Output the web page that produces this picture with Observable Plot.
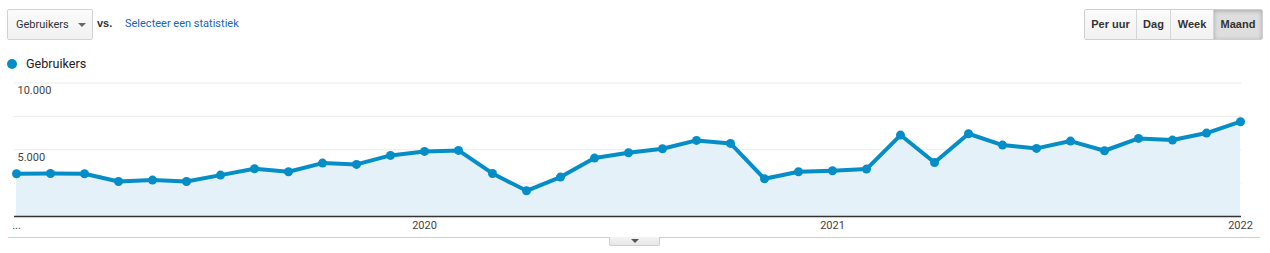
<!DOCTYPE html>
<html>
<head>
<meta charset="utf-8">
<script src="https://cdn.jsdelivr.net/npm/d3@7"></script>
<script src="https://cdn.jsdelivr.net/npm/@observablehq/plot@0.6"></script>
<style>
  html, body { margin: 0; padding: 0; background: #fff; }
  body { width: 1270px; height: 253px; overflow: hidden; font-family: Roboto, Arial, sans-serif; }
  #wrap { position: relative; width: 1270px; height: 253px; }
  .abs { position: absolute; }
  #dd { left: 7px; top: 9px; width: 84px; height: 29px; border: 1px solid #d2d2d2; border-radius: 2px;
        background: linear-gradient(#fbfbfb, #f1f1f1); box-sizing: content-box; }
  #dd span { position: absolute; left: 8px; top: 8px; font-size: 11px; color: #333; }
  #dd i { position: absolute; left: 70px; top: 13px; width: 0; height: 0; border-left: 4px solid transparent;
          border-right: 4px solid transparent; border-top: 4px solid #666; }
  #vs { left: 97px; top: 17px; font-size: 11px; font-weight: bold; color: #333; font-family: Arial, sans-serif; }
  #sel { left: 125px; top: 17px; font-size: 11px; color: #1566b5; }
  #btns { left: 1084px; top: 9px; height: 29px; border: 1px solid #cfcfcf; border-radius: 2px; display: flex; overflow: hidden; }
  #btns div { height: 29px; font: bold 11px Arial, "Liberation Sans", sans-serif; line-height: 29px; text-align: center; color: #333;
              background: linear-gradient(#fbfbfb, #f1f1f1); border-left: 1px solid #d6d6d6; box-sizing: border-box; }
  #btns div:first-child { border-left: none; }
  #btns div.on { background: #dedede; box-shadow: inset 0 1px 4px rgba(0,0,0,0.25); }
  #leg { left: 7px; top: 57px; font-size: 12.6px; color: #222; }
  #leg b { position: absolute; left: 0px; top: 2px; width: 10px; height: 10px; border-radius: 50%; background: #058dc7; }
  #leg span { position: absolute; left: 19px; top: -1px; white-space: nowrap; }
  #chart { left: 0; top: 75px; }
  #bline { left: 8px; top: 237px; width: 1252px; height: 1px; background: #cfcfcf; }
  #tab { left: 609px; top: 237px; width: 49px; height: 8px; border: 1px solid #cfcfcf; border-top: none;
         border-radius: 0 0 2px 2px; background: linear-gradient(#f4f4f4, #e6e6e6); }
  #tab i { position: absolute; left: 21px; top: 2px; width: 0; height: 0; border-left: 4px solid transparent;
           border-right: 4px solid transparent; border-top: 4px solid #555; }
</style>
</head>
<body>
<div id="wrap">
  <div id="dd" class="abs"><span>Gebruikers</span><i></i></div>
  <div id="vs" class="abs">vs.</div>
  <div id="sel" class="abs">Selecteer een statistiek</div>
  <div id="btns" class="abs"></div>
  <div id="leg" class="abs"><b></b><span>Gebruikers</span></div>
  <div id="chart" class="abs"></div>
  <div id="bline" class="abs"></div>
  <div id="tab" class="abs"><i></i></div>
</div>
<script>
// ---- data ----
const months = [
  "2019-01","2019-02","2019-03","2019-04","2019-05","2019-06","2019-07","2019-08","2019-09","2019-10","2019-11","2019-12",
  "2020-01","2020-02","2020-03","2020-04","2020-05","2020-06","2020-07","2020-08","2020-09","2020-10","2020-11","2020-12",
  "2021-01","2021-02","2021-03","2021-04","2021-05","2021-06","2021-07","2021-08","2021-09","2021-10","2021-11","2021-12",
  "2022-01"
];
const users = [
  3200, 3225, 3200, 2625, 2725, 2625, 3100, 3575, 3350, 4000, 3900, 4575,
  4875, 4950, 3225, 1925, 2950, 4375, 4775, 5075, 5700, 5475, 2825, 3350,
  3425, 3550, 6100, 4040, 6200, 5350, 5100, 5650, 4925, 5850, 5725, 6250,
  7100
];
const xTicks = ["2019-01", "2020-01", "2021-01", "2022-01"];
const xTickLabels = ["...", "2020", "2021", "2022"];
const yGrid = [2500, 5000, 7500, 10000];
const yTicks = [5000, 10000];
const seriesName = "Gebruikers";
const intervals = ["Per uur", "Dag", "Week", "Maand"];
const activeInterval = "Maand";

// ---- buttons ----
const btnWidths = [51, 34, 43, 49];
const btns = document.getElementById("btns");
intervals.forEach((t, i) => {
  const d = document.createElement("div");
  d.textContent = t;
  d.style.width = btnWidths[i] + "px";
  if (t === activeInterval) d.className = "on";
  btns.appendChild(d);
});

// ---- chart ----
const data = months.map((m, i) => ({month: m, value: users[i]}));
const nl = d3.formatLocale({decimal: ",", thousands: ".", grouping: [3], currency: ["€", ""]});
const fmt = nl.format(",");
const color = "#058dc7";

const chart = Plot.plot({
  width: 1270,
  height: 170,
  marginLeft: 14,
  marginRight: 29,
  marginTop: 7.5,
  marginBottom: 29,
  style: {fontFamily: "Roboto, Arial, sans-serif", fontSize: "11px", color: "#444", background: "transparent"},
  x: {type: "point", domain: months, padding: 0, label: null},
  y: {domain: [0, 10000], label: null},
  marks: [
    Plot.ruleY(yGrid, {stroke: "#ebebeb", strokeWidth: 1}),
    Plot.areaY(data, {x: "month", y: "value", fill: "#e4f1f8"}),
    Plot.ruleY([0], {stroke: "#333", strokeWidth: 1.5}),
    Plot.lineY(data, {x: "month", y: "value", stroke: color, strokeWidth: 4, strokeLinejoin: "round"}),
    Plot.dot(data, {x: "month", y: "value", r: 4.5, fill: color, stroke: null}),
    Plot.axisY({ticks: yTicks, tickSize: 0, tickPadding: 0, textAnchor: "start", dx: 3, dy: 7.5,
                tickFormat: fmt, fill: "#444", fontSize: 11, label: null}),
    Plot.axisX({ticks: xTicks, tickSize: 0, tickPadding: 5,
                tickFormat: d => xTickLabels[xTicks.indexOf(d)], fill: "#444", fontSize: 11, label: null})
  ]
});
document.getElementById("chart").appendChild(chart);
document.querySelector("#leg span").textContent = seriesName;
</script>
</body>
</html>
